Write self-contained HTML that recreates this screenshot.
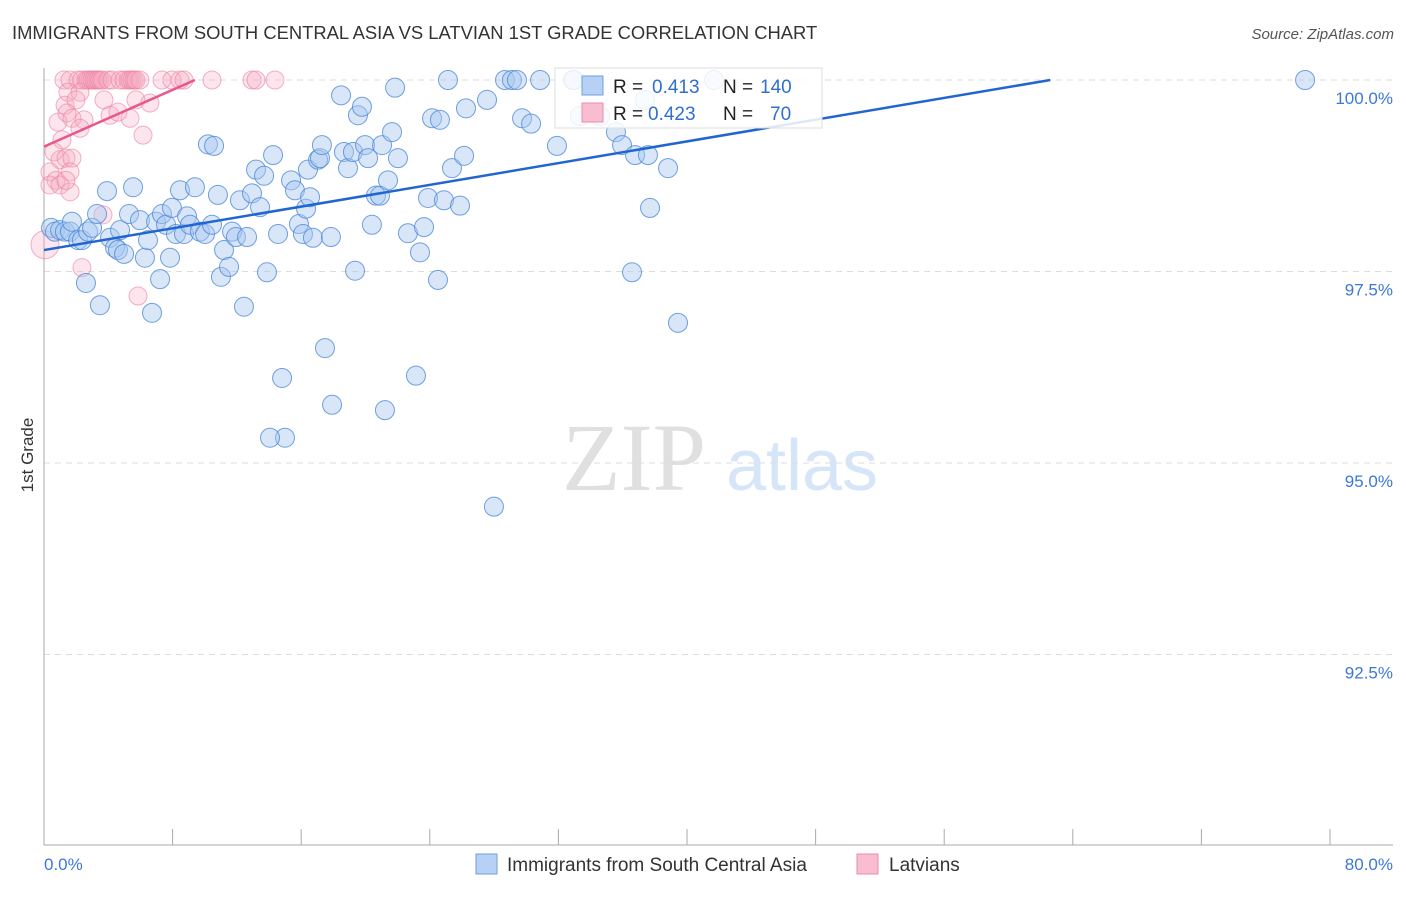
<!DOCTYPE html>
<html><head><meta charset="utf-8"><style>
body{margin:0;background:#fff;font-family:"Liberation Sans",sans-serif;}
</style></head><body>
<svg width="1406" height="892" xmlns="http://www.w3.org/2000/svg" id="svg" style="font-family:'Liberation Sans',sans-serif">
<text x="12" y="39" font-size="18.4" fill="#333">IMMIGRANTS FROM SOUTH CENTRAL ASIA VS LATVIAN 1ST GRADE CORRELATION CHART</text>
<text x="1394" y="39" font-size="15" fill="#555" font-style="italic" text-anchor="end">Source: ZipAtlas.com</text>
<text x="33" y="455" font-size="17" fill="#333" text-anchor="middle" transform="rotate(-90 33 455)">1st Grade</text>
<g><text x="634" y="490" font-size="96" font-family="Liberation Serif" fill="#e0e0e0" text-anchor="middle">ZIP</text><text x="802" y="490" font-size="72" fill="#d6e5f7" text-anchor="middle">atlas</text></g>
<g id="grid"></g><g id="axes"></g><g id="pink"></g><g id="blue"></g><g id="lines"></g>
<g>
<rect x="555" y="68" width="267" height="60" fill="#fff" fill-opacity="0.85" stroke="#ddd"/>
<rect x="582" y="76" width="21" height="19" fill="#b6d1f5" stroke="#6fa0e0"/>
<rect x="582" y="103" width="21" height="19" fill="#f8bdd0" stroke="#ee8aaa"/>
<text x="613" y="93" font-size="19" fill="#222">R =</text><text x="652" y="93" font-size="19" fill="#2f6fd0">0.413</text>
<text x="723" y="93" font-size="19" fill="#222">N =</text><text x="760" y="93" font-size="19" fill="#2f6fd0">140</text>
<text x="613" y="120" font-size="19" fill="#222">R =</text><text x="648" y="120" font-size="19" fill="#2f6fd0">0.423</text>
<text x="723" y="120" font-size="19" fill="#222">N =</text><text x="770" y="120" font-size="19" fill="#2f6fd0">70</text>
</g>
<g>
<rect x="476" y="854" width="21" height="20" fill="#b6d1f5" stroke="#6fa0e0"/>
<text x="507" y="871" font-size="19" fill="#333">Immigrants from South Central Asia</text>
<rect x="857" y="854" width="21" height="20" fill="#f8bdd0" stroke="#ee8aaa"/>
<text x="889" y="871" font-size="19" fill="#333">Latvians</text>
</g>
</svg>
<script>
const blueX=[0.44,0.68,1.0,1.3,1.62,2.12,1.74,2.36,2.74,2.99,3.3,3.48,2.61,3.92,4.11,4.42,4.6,4.98,4.73,5.29,5.54,5.97,6.28,6.47,6.72,6.97,7.22,7.34,7.59,7.84,7.96,8.21,8.46,8.71,8.9,9.08,9.39,9.7,10.02,10.2,10.58,10.45,10.82,11.01,11.2,11.51,11.7,11.94,12.19,12.44,12.63,12.94,13.19,13.44,13.69,13.87,14.25,14.56,14.81,14.99,14.06,15.37,15.61,15.86,16.11,16.3,16.42,16.55,16.73,17.05,17.17,17.29,17.48,17.85,17.92,18.48,18.66,18.91,19.22,19.35,19.53,19.78,19.97,20.16,20.4,20.65,20.9,21.03,21.21,21.4,21.65,21.84,22.02,22.64,23.14,23.39,23.64,23.89,24.14,24.51,24.63,24.88,25.13,25.38,25.88,26.13,26.25,27.56,27.99,28.68,29.11,29.42,29.74,30.3,30.86,31.91,32.91,32.97,33.34,34.59,35.58,35.96,36.58,36.77,37.39,37.57,37.7,38.82,39.44,41.68,78.45];
const blueY=[98.07,98.02,98.04,98.02,98.02,97.91,98.15,97.91,98.02,98.07,98.25,97.06,97.35,98.55,97.94,97.81,97.78,97.73,98.04,98.25,98.6,98.17,97.68,97.91,96.96,98.15,97.4,98.25,98.11,97.68,98.33,97.99,98.56,97.99,98.22,98.11,98.6,98.02,97.99,99.16,99.14,98.11,98.5,97.43,97.78,97.56,98.02,97.95,98.43,97.04,97.95,98.52,98.83,98.34,98.75,97.49,99.02,97.99,96.11,95.33,95.33,98.69,98.56,98.12,97.99,98.32,98.83,98.47,97.94,98.96,98.98,99.15,96.5,97.95,95.76,99.8,99.06,98.85,99.06,97.51,99.54,99.65,99.15,98.98,98.11,98.49,98.49,99.15,95.69,98.69,99.32,99.9,98.98,98.0,96.14,97.75,98.08,98.46,99.5,97.39,99.48,98.43,100,98.85,98.36,99.01,99.63,99.74,94.43,100,100,100,99.5,99.43,100,99.14,100,100,99.53,99.53,99.32,99.15,97.49,99.02,99.74,99.02,98.33,98.85,96.83,100,100];
const pinkX=[1.24,1.62,2.12,2.36,2.61,2.74,2.86,2.99,3.11,3.23,3.36,3.48,3.61,3.98,4.23,4.73,4.98,5.23,5.35,5.47,5.6,5.72,5.97,7.34,7.96,8.46,8.71,10.45,12.94,13.19,14.37,1.49,2.24,1.31,1.99,3.73,4.11,4.6,5.72,6.59,5.35,0.87,1.43,1.74,2.49,2.24,1.12,0.62,1.0,1.37,1.74,0.37,0.75,1.62,0.37,1.0,1.62,6.16,3.67,2.36,5.85,0.06,1.37];
const pinkY=[100,100,100,100,100,100,100,100,100,100,100,100,100,100,100,100,100,100,100,100,100,100,100,100,100,100,100,100,100,100,100,99.84,99.84,99.67,99.74,99.74,99.54,99.58,99.74,99.7,99.5,99.45,99.57,99.5,99.48,99.37,99.22,99.06,98.96,98.98,98.98,98.8,98.69,98.8,98.63,98.63,98.54,99.28,98.24,97.55,97.18,97.85,98.69];
const yTicks=[100,97.5,95,92.5];
const yTickLabels=["100.0%","97.5%","95.0%","92.5%"];
const blueTrend=[[0,97.78],[62.6,100]];
const pinkTrend=[[0,99.13],[9.39,100]];
const NS="http://www.w3.org/2000/svg";
const sx=v=>44+v*16.075, sy=v=>80+(100-v)*76.6;
function mk(t,a,p){const e=document.createElementNS(NS,t);for(const k in a)e.setAttribute(k,a[k]);document.getElementById(p).appendChild(e);return e;}
yTicks.forEach((t,i)=>{
 const l=mk('line',{x1:44,x2:1393,y1:sy(t),y2:sy(t),stroke:'#ddd','stroke-dasharray':'6,5'},'grid');
 
 
 const tx=mk('text',{x:1393,y:sy(t)+24,'font-size':17,fill:'#3d78d8','text-anchor':'end'},'grid');
 tx.textContent=yTickLabels[i];
 
 
});
let a=mk('line',{x1:44,x2:44,y1:68,y2:845,stroke:'#aaa'},'axes');


a=mk('line',{x1:44,x2:1393,y1:845,y2:845,stroke:'#aaa'},'axes');


for(let i=1;i<=10;i++){const t=mk('line',{x1:sx(i*8),x2:sx(i*8),y1:829,y2:845,stroke:'#aaa'},'axes');
 
 }
[[0,'0.0%','start',44],[80,'80.0%','end',1393]].forEach(d=>{const t=mk('text',{x:d[3],y:870,'font-size':17,fill:'#3d78d8','text-anchor':d[2]},'axes');t.textContent=d[1];
 
 });
pinkX.forEach((x,i)=>{const c=mk('circle',{cx:sx(x),cy:sy(pinkY[i]),r:i==61?14:9,fill:'#f6a8c0','fill-opacity':0.3,stroke:'#ec7fa0','stroke-opacity':0.6},'pink');
 
 });
blueX.forEach((x,i)=>{const c=mk('circle',{cx:sx(x),cy:sy(blueY[i]),r:9.5,fill:'#a9c8f0','fill-opacity':0.45,stroke:'#4f8ad8','stroke-opacity':0.8},'blue');
 
 });
let t=mk('line',{x1:sx(blueTrend[0][0]),y1:sy(blueTrend[0][1]),x2:sx(blueTrend[1][0]),y2:sy(blueTrend[1][1]),stroke:'#2166d0','stroke-width':2.5},'lines');


t=mk('line',{x1:sx(pinkTrend[0][0]),y1:sy(pinkTrend[0][1]),x2:sx(pinkTrend[1][0]),y2:sy(pinkTrend[1][1]),stroke:'#e8578a','stroke-width':2.5},'lines');


</script>
</body></html>
